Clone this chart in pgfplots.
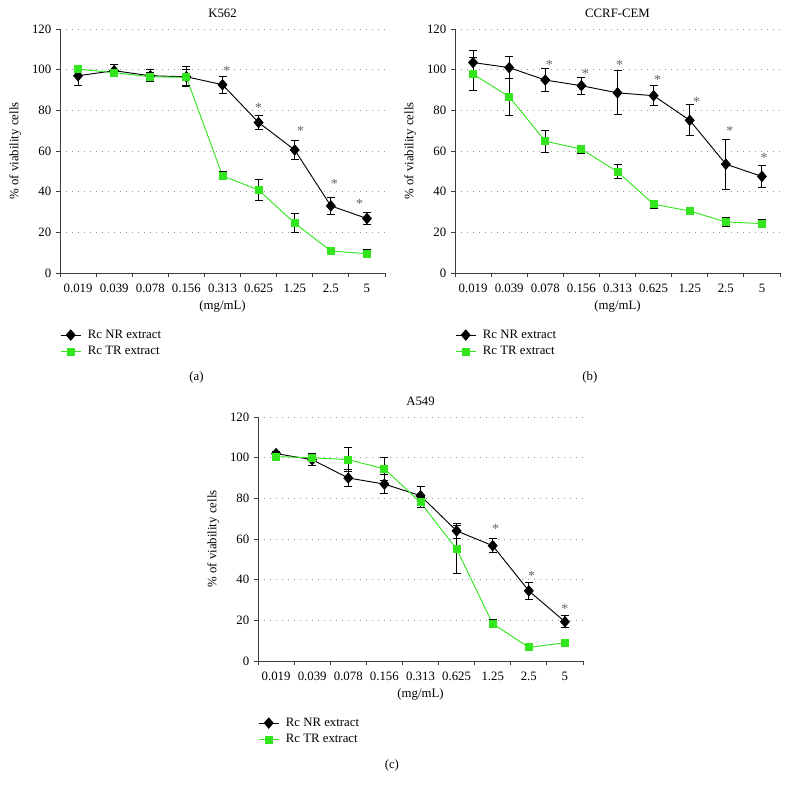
\documentclass[border=0pt]{standalone}
\usepackage{fontspec}
\setmainfont{Liberation Serif}
\usepackage{pgfplots}
\pgfplotsset{compat=1.18}

\definecolor{trgreen}{RGB}{50,230,30}
\definecolor{axgray}{RGB}{60,60,60}
\definecolor{stargray}{RGB}{100,100,100}
\newcommand{\fs}{\fontsize{9.6}{11.5}\selectfont}

\pgfplotsset{
  panel/.style={
    scale only axis, width=243.75pt, height=183pt,
    axis lines=left, axis line style={-, axgray, line width=0.6pt},
    xmin=0, xmax=9, ymin=0, ymax=120,
    ytick={0,20,...,120},
    xtick={0,1,...,9}, xticklabels={},
    extra x ticks={0.5,1.5,...,8.5},
    extra x tick labels={0.019,0.039,0.078,0.156,0.313,0.625,1.25,2.5,5},
    extra x tick style={major tick length=0pt},
    xticklabel style={yshift=-4.5pt},
    tick align=outside, major tick length=3pt,
    tick style={axgray, line width=0.6pt},
    ymajorgrids,
    grid style={gray!80, line width=0.6pt, dash pattern=on 0.6pt off 3.9pt},
    tick label style={font=\fs},
    label style={font=\fs},
    every axis title shift=0pt,
    title style={font=\fs, at={(0.5,1.066)}, anchor=center, yshift=0pt},
    /pgf/number format/assume math mode=true,
    xlabel={(mg/mL)}, ylabel={\% of viability cells},
    xlabel style={at={(0.5,-0.139)}, anchor=center},
    ylabel style={at={(-0.138,0.5)}, anchor=center},
    legend style={draw=none, fill=none, at={(0,-0.232)}, anchor=north west,
      font=\fs, inner sep=0pt, nodes={inner sep=0pt}, row sep=4.6pt, column sep=5pt},
    legend cell align=left,
    legend image code/.code={
      \draw[mark repeat=2, mark phase=2] plot coordinates {(0pt,0pt) (7.5pt,0pt) (15pt,0pt)};
    },
    clip=false,
  },
  nr/.style={black, line width=0.7pt, mark=diamond*, mark size=3.8pt,
    mark options={solid, fill=black, xscale=1.15},
    error bars/y dir=both, error bars/y explicit,
    error bars/error bar style={black, line width=0.7pt},
    error bars/error mark options={rotate=90, mark size=3pt, black, line width=0.7pt}},
  tr/.style={trgreen, line width=0.7pt, mark=square*, mark size=2.6pt,
    mark options={solid, fill=trgreen},
    error bars/y dir=both, error bars/y explicit,
    error bars/error bar style={black, line width=0.7pt},
    error bars/error mark options={rotate=90, mark size=3pt, black, line width=0.7pt}},
  stars/.style={draw=none, mark=none, forget plot, nodes near coords={*},
    every node near coord/.append style={anchor=center, text=stargray,
      font=\fontsize{10.5}{12}\selectfont, inner sep=0pt}},
}

\begin{document}
\begin{tikzpicture}
\path[use as bounding box] (0,0) rectangle (591.75pt,593.25pt);

% (a) K562
\begin{axis}[panel, at={(45pt,388.5pt)}, title={K562}]
\addplot[nr] coordinates {
  (0.5,97) +- (0,5) (1.5,99.5) +- (0,3) (2.5,97) +- (0,3)
  (3.5,96.5) +- (0,5) (4.5,92.6) +- (0,4.2) (5.5,74) +- (0,3.5)
  (6.5,60.5) +- (0,4.5) (7.5,33) +- (0,4.2) (8.5,26.8) +- (0,3)
};
\addlegendentry{Rc NR extract}
\addplot[tr] coordinates {
  (0.5,100.3) +- (0,1.5) (1.5,98.5) +- (0,1.5) (2.5,96.5) +- (0,2)
  (3.5,96.2) +- (0,4) (4.5,47.8) +- (0,2) (5.5,40.8) +- (0,5)
  (6.5,24.5) +- (0,4.6) (7.5,10.8) +- (0,1) (8.5,9.5) +- (0,2)
};
\addlegendentry{Rc TR extract}
\addplot[stars] coordinates {
  (4.62,99.4) (5.5,81.4) (6.66,69.9) (7.6,43.6) (8.3,34.1)
};
\node[font=\fs] at (rel axis cs:0.42,-0.426) {(a)};
\end{axis}

% (b) CCRF-CEM
\begin{axis}[panel, at={(341.25pt,388.5pt)}, title={CCRF-CEM}]
\addplot[nr] coordinates {
  (0.5,103.5) +- (0,6) (1.5,101) +- (0,5.4) (2.5,94.9) +- (0,5.5)
  (3.5,92.1) +- (0,4.2) (4.5,88.6) +- (0,10.8) (5.5,87.2) +- (0,5)
  (6.5,75.1) +- (0,7.7) (7.5,53.5) +- (0,12.2) (8.5,47.5) +- (0,5.6)
};
\addlegendentry{Rc NR extract}
\addplot[tr] coordinates {
  (0.5,97.8) +- (0,8) (1.5,86.7) +- (0,9) (2.5,64.8) +- (0,5.5)
  (3.5,60.9) +- (0,2) (4.5,49.8) +- (0,3.5) (5.5,33.8) +- (0,2)
  (6.5,30.5) +- (0,1) (7.5,25.1) +- (0,2.3) (8.5,24.3) +- (0,2)
};
\addlegendentry{Rc TR extract}
\addplot[stars] coordinates {
  (2.61,102.2) (3.61,97.8) (4.56,102.2) (5.61,94.8) (6.69,84.3) (7.61,70.1) (8.56,56.7)
};
\node[font=\fs] at (rel axis cs:0.415,-0.426) {(b)};
\end{axis}

% (c) A549
\begin{axis}[panel, at={(193.5pt,97.5pt)}, title={A549}]
\addplot[nr] coordinates {
  (0.5,102) +- (0,1) (1.5,99) +- (0,3) (2.5,90) +- (0,4)
  (3.5,87) +- (0,4.5) (4.5,81.3) +- (0,4.6) (5.5,64) +- (0,3.5)
  (6.5,56.7) +- (0,3.5) (7.5,34.5) +- (0,4) (8.5,19.3) +- (0,3)
};
\addlegendentry{Rc NR extract}
\addplot[tr] coordinates {
  (0.5,100.5) +- (0,1) (1.5,100) +- (0,1.5) (2.5,99) +- (0,6)
  (3.5,94.5) +- (0,5.8) (4.5,78) +- (0,2.5) (5.5,55) +- (0,11.8)
  (6.5,18.3) +- (0,2) (7.5,6.7) +- (0,1) (8.5,9) +- (0,1)
};
\addlegendentry{Rc TR extract}
\addplot[stars] coordinates {
  (6.58,64.8) (7.58,41.6) (8.5,25.7)
};
\node[font=\fs] at (rel axis cs:0.412,-0.426) {(c)};
\end{axis}
\end{tikzpicture}
\end{document}
